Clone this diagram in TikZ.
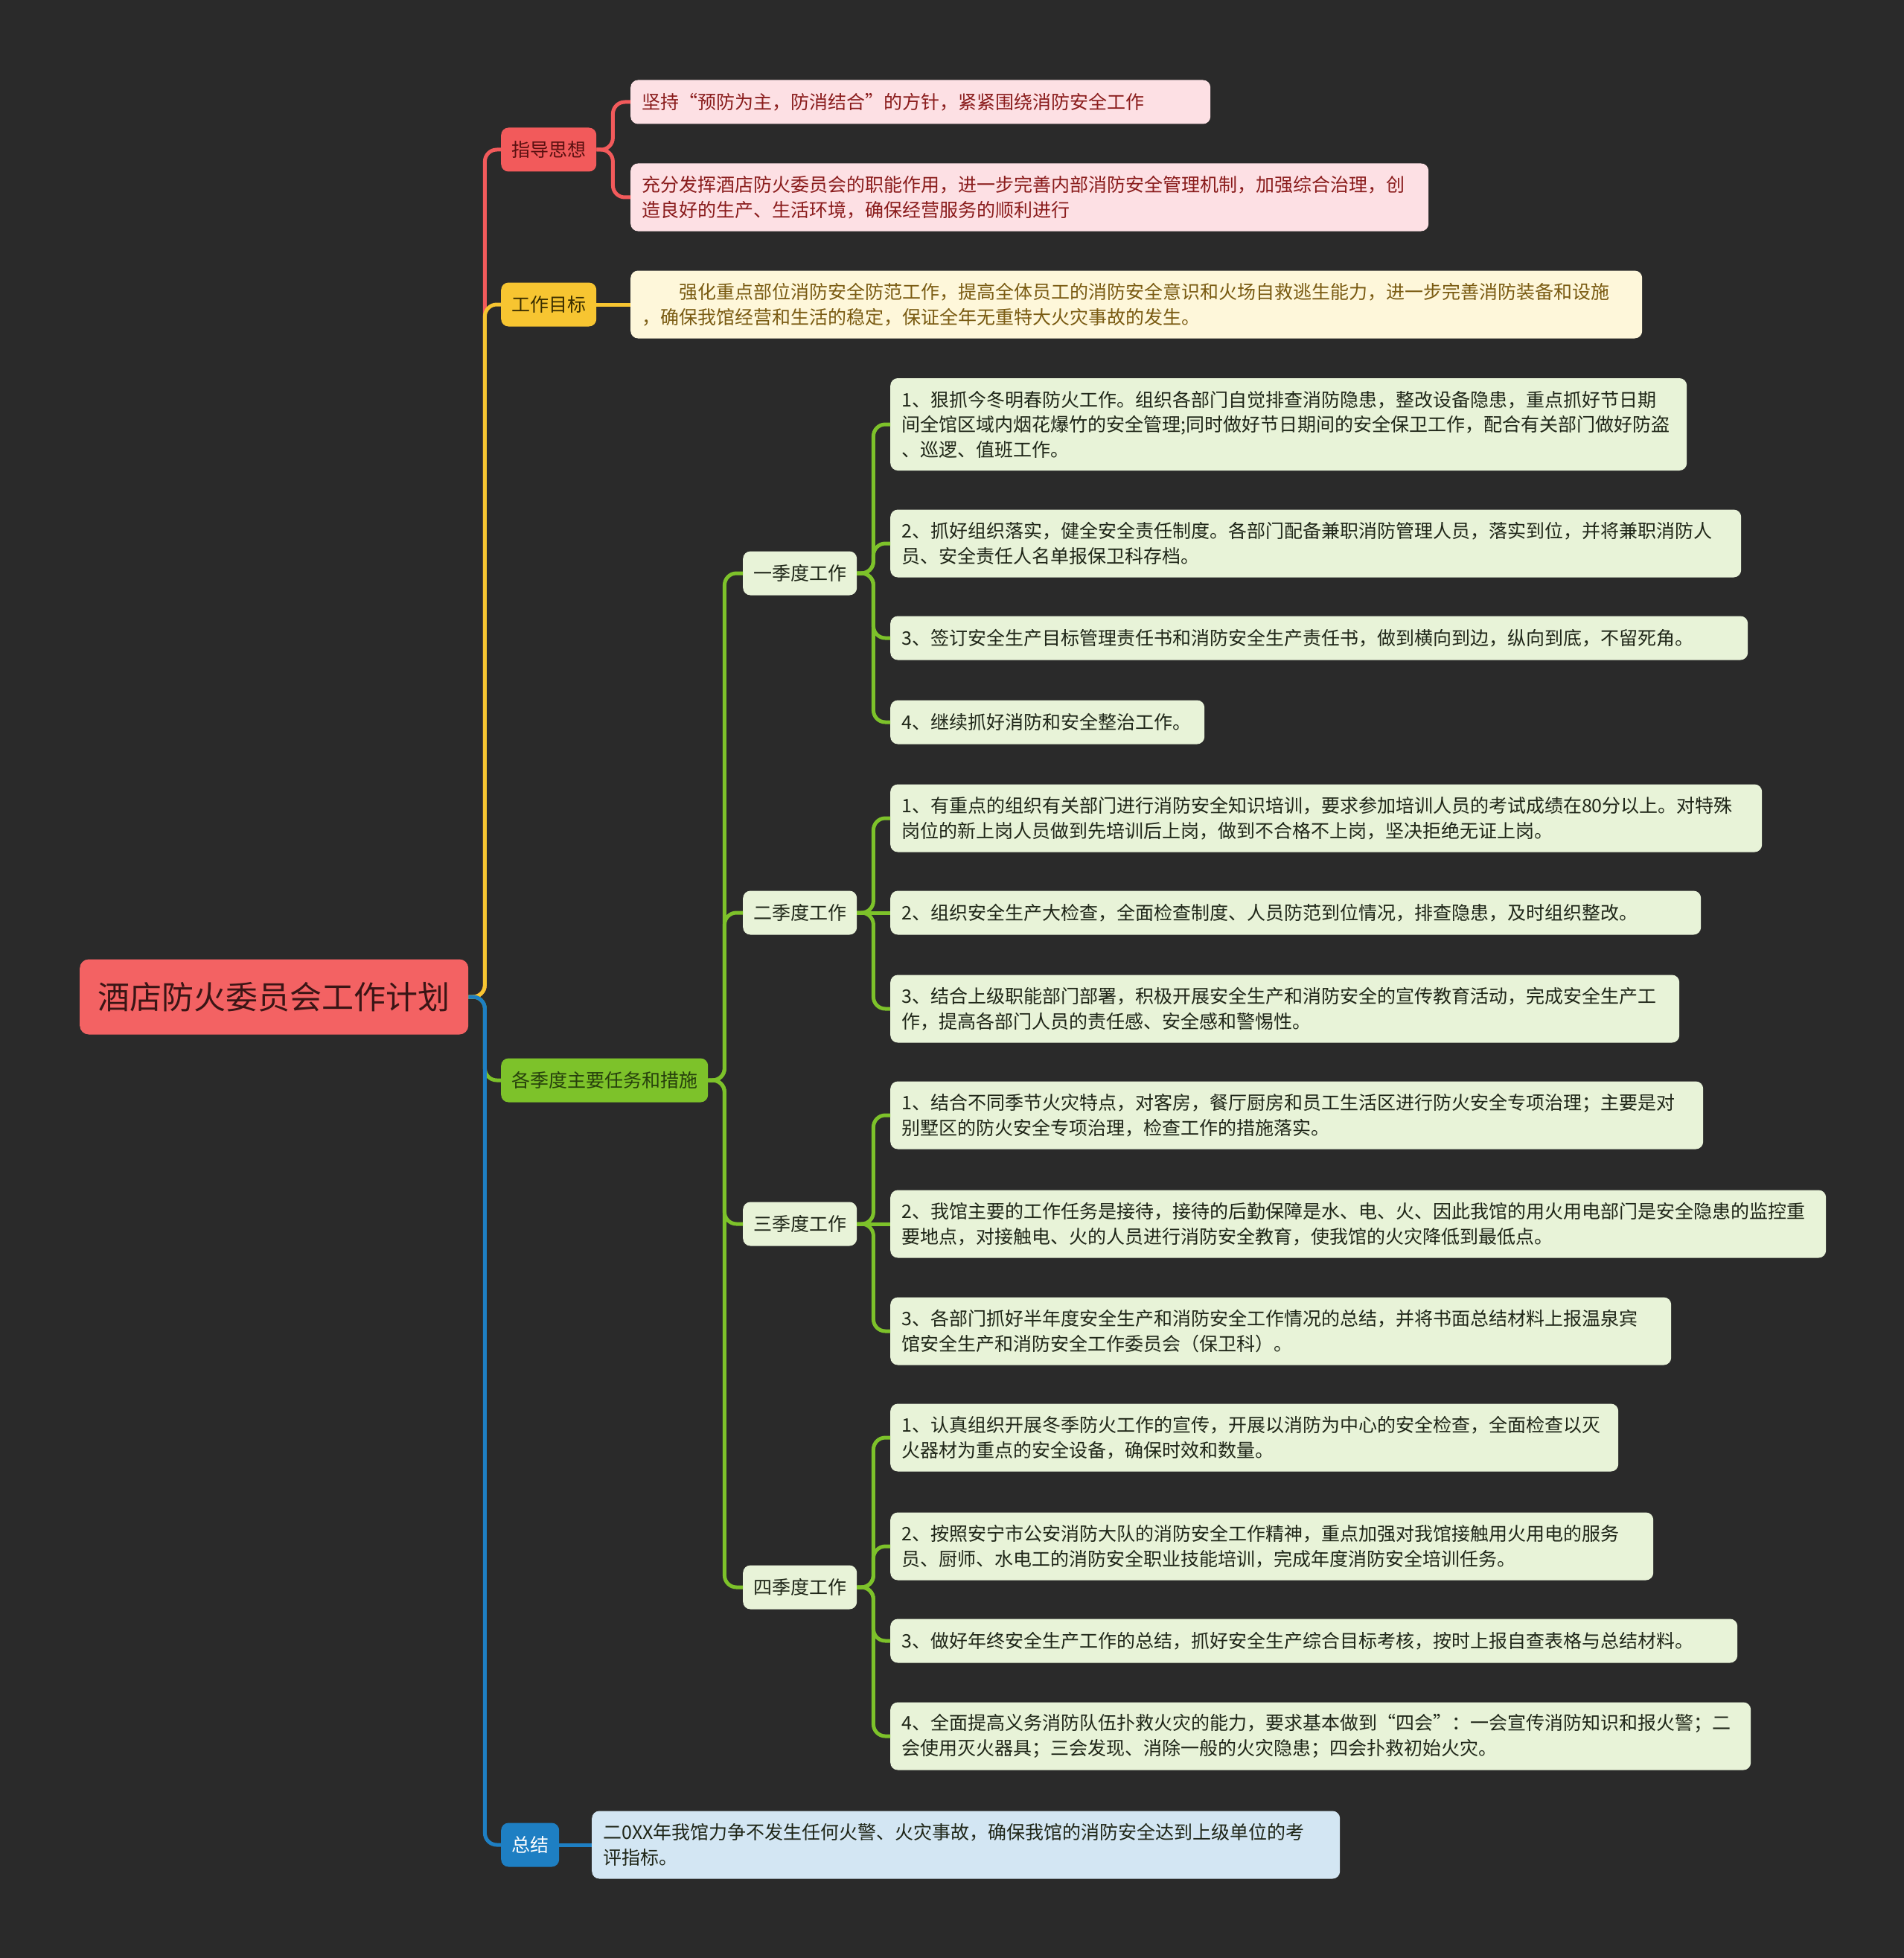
\documentclass[tikz,border=0pt]{standalone}
\usepackage{fontspec}
\setmainfont{Noto Sans CJK SC}
\definecolor{bg}{HTML}{2A2A2A}
\definecolor{cred}{HTML}{F25A5B}
\definecolor{cyel}{HTML}{F7C531}
\definecolor{cgrn}{HTML}{7DC22A}
\definecolor{cblu}{HTML}{1E7FC3}
\definecolor{fpink}{HTML}{FDE0E4}
\definecolor{fcream}{HTML}{FEF7DA}
\definecolor{flgrn}{HTML}{E8F3D8}
\definecolor{flblu}{HTML}{D3E6F3}
\definecolor{tpink}{HTML}{8A1C1C}
\definecolor{tcream}{HTML}{7A5B12}
\definecolor{tdark}{HTML}{1F2618}
\definecolor{troot}{HTML}{3A1515}
\definecolor{tredhead}{HTML}{5A1010}
\definecolor{tyelhead}{HTML}{3A2E00}
\definecolor{tgrnhead}{HTML}{26400C}
\newcommand\mmlink[3]{\draw[#1] (#2.east) -- ++(22,0) |- (#3.west);}
\begin{document}
\begin{tikzpicture}[x=1pt,y=-1pt,
  box/.style={rounded corners=10pt, inner xsep=15pt, inner ysep=4pt, anchor=west,
    font=\fontsize{25}{33.5}\selectfont, align=left},
  one/.style={minimum height=59pt},
  two/.style={minimum height=91pt},
  three/.style={minimum height=124pt},
  head/.style={rounded corners=10pt, inner xsep=14pt, inner ysep=4pt, anchor=west,
    minimum height=59pt, font=\fontsize{25}{30}\selectfont},
  pinkleaf/.style={box, fill=fpink, text=tpink},
  creamleaf/.style={box, fill=fcream, text=tcream},
  grnleaf/.style={box, fill=flgrn, text=tdark},
  bluleaf/.style={box, fill=flblu, text=tdark},
  conn/.style={line width=5pt, rounded corners=16pt},
  cr/.style={conn, draw=cred},
  cy/.style={conn, draw=cyel},
  cg/.style={conn, draw=cgrn},
  cb/.style={conn, draw=cblu}]
\useasboundingbox (0,0) rectangle (2557,2630);
\fill[bg] (-10,-10) rectangle (2570,2640);

% root
\node[rounded corners=12pt, fill=cred!95!white, text=troot, anchor=west,
  minimum width=522pt, minimum height=101pt, inner sep=0pt,
  font=\fontsize{43}{50}\selectfont] (root) at (107,1339) {酒店防火委员会工作计划};

% level 1
\node[head, fill=cred, text=tredhead] (h1) at (673,201) {指导思想};
\node[head, fill=cyel, text=tyelhead] (h2) at (673,409) {工作目标};
\node[head, fill=cgrn, text=tgrnhead] (h3) at (673,1451) {各季度主要任务和措施};
\node[head, fill=cblu, text=white] (h4) at (673,2478) {总结};

% 指导思想 children
\node[pinkleaf, one, text width=749pt] (a1) at (847,137) {坚持“预防为主，防消结合”的方针，紧紧围绕消防安全工作};
\node[pinkleaf, two, text width=1042pt] (a2) at (847,265) {充分发挥酒店防火委员会的职能作用，进一步完善内部消防安全管理机制，加强综合治理，创\\造良好的生产、生活环境，确保经营服务的顺利进行};

% 工作目标 child
\node[creamleaf, two, text width=1329pt] (g1) at (847,409) {\hspace*{50pt}强化重点部位消防安全防范工作，提高全体员工的消防安全意识和火场自救逃生能力，进一步完善消防装备和设施\\，确保我馆经营和生活的稳定，保证全年无重特大火灾事故的发生。};

% quarters
\node[head, fill=flgrn, text=tdark] (q1) at (998,770) {一季度工作};
\node[head, fill=flgrn, text=tdark] (q2) at (998,1226) {二季度工作};
\node[head, fill=flgrn, text=tdark] (q3) at (998,1644) {三季度工作};
\node[head, fill=flgrn, text=tdark] (q4) at (998,2132) {四季度工作};

% Q1 leaves
\node[grnleaf, three, text width=1040pt] (q1a) at (1196,570) {1、狠抓今冬明春防火工作。组织各部门自觉排查消防隐患，整改设备隐患，重点抓好节日期\\间全馆区域内烟花爆竹的安全管理;同时做好节日期间的安全保卫工作，配合有关部门做好防盗\\、巡逻、值班工作。};
\node[grnleaf, two, text width=1113pt] (q1b) at (1196,730) {2、抓好组织落实，健全安全责任制度。各部门配备兼职消防管理人员，落实到位，并将兼职消防人\\员、安全责任人名单报保卫科存档。};
\node[grnleaf, one, text width=1122pt] (q1c) at (1196,857) {3、签订安全生产目标管理责任书和消防安全生产责任书，做到横向到边，纵向到底，不留死角。};
\node[grnleaf, one, text width=392pt] (q1d) at (1196,970) {4、继续抓好消防和安全整治工作。};

% Q2 leaves
\node[grnleaf, two, text width=1141pt] (q2a) at (1196,1099) {1、有重点的组织有关部门进行消防安全知识培训，要求参加培训人员的考试成绩在80分以上。对特殊\\岗位的新上岗人员做到先培训后上岗，做到不合格不上岗，坚决拒绝无证上岗。};
\node[grnleaf, one, text width=1059pt] (q2b) at (1196,1226) {2、组织安全生产大检查，全面检查制度、人员防范到位情况，排查隐患，及时组织整改。};
\node[grnleaf, two, text width=1030pt] (q2c) at (1196,1355) {3、结合上级职能部门部署，积极开展安全生产和消防安全的宣传教育活动，完成安全生产工\\作，提高各部门人员的责任感、安全感和警惕性。};

% Q3 leaves
\node[grnleaf, two, text width=1062pt] (q3a) at (1196,1498) {1、结合不同季节火灾特点，对客房，餐厅厨房和员工生活区进行防火安全专项治理；主要是对\\别墅区的防火安全专项治理，检查工作的措施落实。};
\node[grnleaf, two, text width=1227pt] (q3b) at (1196,1644) {2、我馆主要的工作任务是接待，接待的后勤保障是水、电、火、因此我馆的用火用电部门是安全隐患的监控重\\要地点，对接触电、火的人员进行消防安全教育，使我馆的火灾降低到最低点。};
\node[grnleaf, two, text width=1019pt] (q3c) at (1196,1788) {3、各部门抓好半年度安全生产和消防安全工作情况的总结，并将书面总结材料上报温泉宾\\馆安全生产和消防安全工作委员会（保卫科）。};

% Q4 leaves
\node[grnleaf, two, text width=948pt] (q4a) at (1196,1931) {1、认真组织开展冬季防火工作的宣传，开展以消防为中心的安全检查，全面检查以灭\\火器材为重点的安全设备，确保时效和数量。};
\node[grnleaf, two, text width=995pt] (q4b) at (1196,2077) {2、按照安宁市公安消防大队的消防安全工作精神，重点加强对我馆接触用火用电的服务\\员、厨师、水电工的消防安全职业技能培训，完成年度消防安全培训任务。};
\node[grnleaf, one, text width=1108pt] (q4c) at (1196,2204) {3、做好年终安全生产工作的总结，抓好安全生产综合目标考核，按时上报自查表格与总结材料。};
\node[grnleaf, two, text width=1126pt] (q4d) at (1196,2332) {4、全面提高义务消防队伍扑救火灾的能力，要求基本做到“四会”：一会宣传消防知识和报火警；二\\会使用灭火器具；三会发现、消除一般的火灾隐患；四会扑救初始火灾。};

% 总结 child
\node[bluleaf, two, text width=975pt] (s1) at (795,2478) {二0XX年我馆力争不发生任何火警、火灾事故，确保我馆的消防安全达到上级单位的考\\评指标。};

% connectors from root
\mmlink{cr}{root}{h1}
\mmlink{cy}{root}{h2}
\mmlink{cg}{root}{h3}
\mmlink{cb}{root}{h4}

% level 1 to leaves
\mmlink{cr}{h1}{a1}
\mmlink{cr}{h1}{a2}
\draw[cy] (h2.east) -- (g1.west);
\draw[cb] (h4.east) -- (s1.west);

% 各季度 to quarters
\mmlink{cg}{h3}{q1}
\mmlink{cg}{h3}{q2}
\mmlink{cg}{h3}{q3}
\mmlink{cg}{h3}{q4}

% quarters to leaves
\mmlink{cg}{q1}{q1a}
\mmlink{cg}{q1}{q1b}
\mmlink{cg}{q1}{q1c}
\mmlink{cg}{q1}{q1d}
\mmlink{cg}{q2}{q2a}
\draw[cg] (q2.east) -- (q2b.west);
\mmlink{cg}{q2}{q2c}
\mmlink{cg}{q3}{q3a}
\draw[cg] (q3.east) -- (q3b.west);
\mmlink{cg}{q3}{q3c}
\mmlink{cg}{q4}{q4a}
\mmlink{cg}{q4}{q4b}
\mmlink{cg}{q4}{q4c}
\mmlink{cg}{q4}{q4d}
\end{tikzpicture}
\end{document}
